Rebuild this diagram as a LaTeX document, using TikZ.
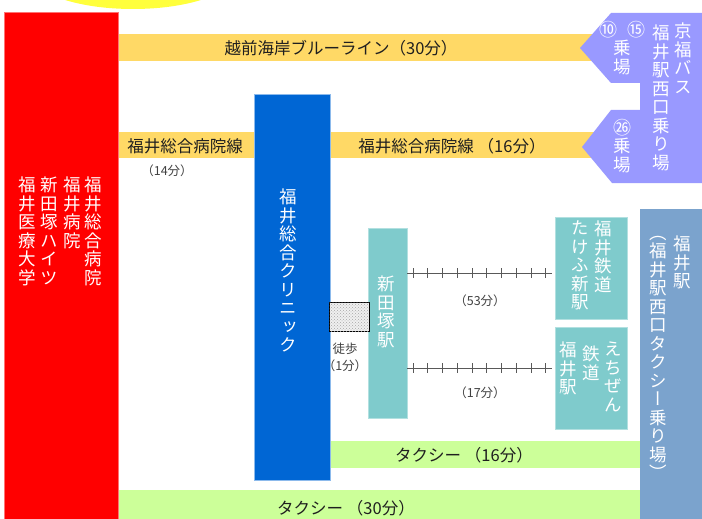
\documentclass[tikz,border=0pt]{standalone}
\usepackage{fontspec}
\setmainfont{Noto Sans CJK JP}
\newfontfamily\jp{Noto Sans CJK JP}
\newfontfamily\vjp[RawFeature=+vert]{Noto Sans CJK JP}
\usetikzlibrary{patterns,calc}
\definecolor{bandY}{HTML}{FFD966}
\definecolor{bandG}{HTML}{CCFF99}
\definecolor{redB}{HTML}{FF0000}
\definecolor{blueB}{HTML}{0066D4}
\definecolor{tealB}{HTML}{7FCBCC}
\definecolor{steelB}{HTML}{7BA3CD}
\definecolor{lavB}{HTML}{9999FF}
\definecolor{sunY}{HTML}{FFFF3C}
\definecolor{railC}{HTML}{595959}
\definecolor{txtC}{HTML}{1F1F1F}
\tikzset{
  box/.style={rectangle, inner sep=0pt, outer sep=0pt},
  vt/.style={font=\vjp\fontsize{17.5}{18.5}\selectfont, text=white, align=center, anchor=north, inner sep=0pt},
  bandtxt/.style={font=\jp\fontsize{16.5}{20}\selectfont, text=txtC, inner sep=0pt},
  smalltxt/.style={font=\jp\fontsize{12.5}{17}\selectfont, text=txtC!85, inner sep=0pt},
  circ/.style={font=\jp\fontsize{18}{18}\selectfont, text=white, inner sep=0pt},
  rail/.style={draw=railC, line width=1pt},
}
\begin{document}
\begin{tikzpicture}[x=1pt,y=-1pt]
\useasboundingbox (0,0) rectangle (702,519);
\fill[white] (0,0) rectangle (702,519);
% sun
\fill[sunY] (133,-25) ellipse [x radius=100pt, y radius=34pt];
% bands
\node[box, fill=bandY, minimum width=482pt, minimum height=27pt] (bandA) at (359,47.5) {};
\node[box, fill=bandY, minimum width=477pt, minimum height=26pt] (bandB) at (356.5,145) {};
\node[box, fill=bandG, minimum width=310pt, minimum height=27pt] (green16) at (485,454.5) {};
\node[box, fill=bandG, minimum width=522pt, minimum height=31pt] (green30) at (379,505.5) {};
% bus stop shape
\fill[lavB] (611,13) -- (702,13) -- (702,183) -- (612,183) -- (582,147) -- (611,110)
  -- (640,110) -- (640,83) -- (611,83) -- (580,48) -- cycle;
% main boxes
\node[box, fill=redB, draw=redB!55!white, line width=0.6pt, minimum width=114pt, minimum height=510pt] (red) at (61,267) {};
\node[box, fill=blueB, draw=blueB!45!white, line width=0.6pt, minimum width=76pt, minimum height=386pt] (blue) at (292,287) {};
\node[box, fill=steelB, minimum width=62pt, minimum height=312pt] (steel) at (671,365) {};
\node[box, fill=tealB, draw=tealB!60!white, line width=0.5pt, minimum width=39pt, minimum height=190pt] (shin) at (387.5,323) {};
\node[box, fill=tealB, draw=tealB!60!white, line width=0.5pt, minimum width=72pt, minimum height=102pt] (take) at (591,268) {};
\node[box, fill=tealB, draw=tealB!60!white, line width=0.5pt, minimum width=72pt, minimum height=102pt] (echi) at (591,378) {};
\node[box, fill=gray!12, draw=black, line width=0.8pt, minimum width=40pt, minimum height=29pt,
  postaction={pattern=crosshatch dots, pattern color=gray!70}] (walk) at (349,316.5) {};
% rails
\coordinate (r1) at (0,273);
\coordinate (r2) at (0,368);
\draw[rail] (shin.east |- r1) -- ([xshift=-3pt]take.west |- r1);
\draw[rail] (shin.east |- r2) -- ([xshift=-3pt]echi.west |- r2);
\foreach \k in {0,...,9}{
  \draw[rail] ($(shin.east |- r1)+(6+\k*14.75,-5)$) -- ++(0,10);
  \draw[rail] ($(shin.east |- r2)+(6+\k*14.75,-5)$) -- ++(0,10);
}
% red texts
\node[vt] (rc1) at (93,177) {福\\井\\総\\合\\病\\院};
\node[vt] (rc2) at (72,177) {福\\井\\病\\院};
\node[vt] (rc3) at (49,177) {新\\田\\塚\\ハ\\イ\\ツ};
\node[vt] (rc4) at (27,177) {福\\井\\医\\療\\大\\学};
% bus texts
\node[vt] (bc1) at (683,23) {京\\福\\バ\\ス};
\node[vt] (bc2) at (661,25) {福\\井\\駅\\西\\口\\乗\\り\\場};
\node[circ] (n10) at (608,30) {⑩};
\node[circ] (n15) at (636,30) {⑮};
\node[vt] (bj1) at (622,40) {乗\\場};
\node[circ] (n26) at (622,128) {㉖};
\node[vt] (bj2) at (622,138) {乗\\場};
% steel texts
\node[vt] (sc1) at (682,236) {福\\井\\駅};
\node[vt] (sc2) at (658,236) {（\\福\\井\\駅\\西\\口\\タ\\ク\\シ\\ー\\乗\\り\\場\\）};
% teal texts
\node[vt] (tc1) at (603,221) {福\\井\\鉄\\道};
\node[vt] (tc2) at (580,221) {た\\け\\ふ\\新\\駅};
\node[vt] (ec1) at (613,342) {え\\ち\\ぜ\\ん};
\node[vt] (ec2) at (591,342) {　\\鉄\\道};
\node[vt] (ec3) at (568,342) {福\\井\\駅};
\node[vt] (st) at (386,276) {新\\田\\塚\\駅};
\node[vt] (bt) at (288,189) {福\\井\\総\\合\\ク\\リ\\ニ\\ッ\\ク};
% band texts
\node[bandtxt] (tA) at (341,48) {越前海岸ブルーライン（30分）};
\node[bandtxt] (tB1) at (185,146) {福井総合病院線};
\node[bandtxt] (tB2) at (452,146) {福井総合病院線 （16分）};
\node[bandtxt] (tG1) at (464,455) {タクシー （16分）};
\node[bandtxt] (tG2) at (346,508) {タクシー （30分）};
% small texts
\node[smalltxt] (t14) at (167,171) {（14分）};
\node[smalltxt] (t53) at (480,301) {（53分）};
\node[smalltxt] (t17) at (480,393) {（17分）};
\node[smalltxt, align=center] (tw) at (345,357) {徒歩\\（1分）};
\end{tikzpicture}
\end{document}
